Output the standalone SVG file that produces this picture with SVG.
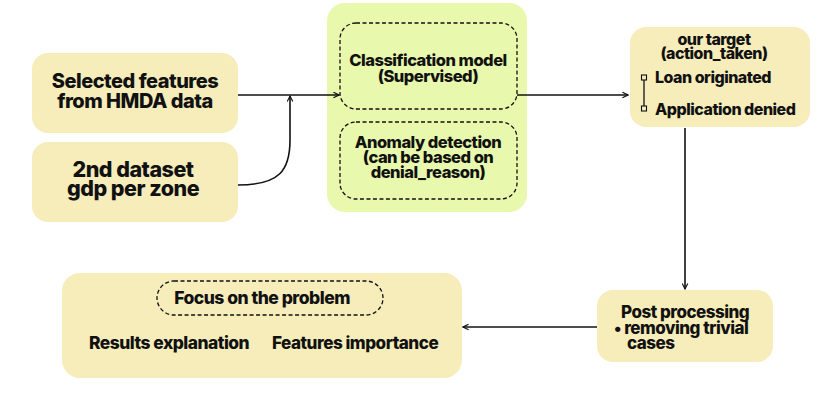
<svg xmlns="http://www.w3.org/2000/svg" width="824" height="405" viewBox="0 0 824 405">
<style>
.box{fill:#f6edbb;}
.grn{fill:#e8f8ac;}
.dash{fill:none;stroke:#111;stroke-width:1.3;stroke-dasharray:4 2.5;}
.t{font-family:Inter,"Liberation Sans",sans-serif;font-weight:800;fill:#111;letter-spacing:-0.5px;}
.c{text-anchor:middle;}
.con{fill:none;stroke:#111;stroke-width:1.6;}
</style>
<defs>
<marker id="ah" viewBox="0 0 10 10" refX="9" refY="5" markerWidth="7" markerHeight="7" orient="auto-start-reverse" markerUnits="userSpaceOnUse">
<path d="M1,1 L9,5 L1,9" fill="none" stroke="#111" stroke-width="1.6"/>
</marker>
</defs>
<rect width="824" height="405" fill="#ffffff"/>
<g id="hmda">
<rect class="box" x="32" y="53" width="206" height="80" rx="16"/>
<text class="t c" font-size="20" letter-spacing="-1"><tspan x="135" y="88">Selected features</tspan><tspan x="135" y="108">from HMDA data</tspan></text>
</g>
<g id="gdp">
<rect class="box" x="32" y="142" width="206" height="80" rx="16"/>
<text class="t c" font-size="21.5" letter-spacing="-0.8"><tspan x="133" y="177">2nd dataset</tspan><tspan x="133" y="196">gdp per zone</tspan></text>
</g>
<g id="models">
<rect class="grn" x="327" y="3" width="200" height="209" rx="18"/>
<g id="classification">
<rect class="dash" x="340" y="23" width="177" height="86" rx="16"/>
<text class="t c" font-size="16.5"><tspan x="428" y="66">Classification model</tspan><tspan x="428" y="82">(Supervised)</tspan></text>
</g>
<g id="anomaly">
<rect class="dash" x="340" y="122" width="177" height="77" rx="16"/>
<text class="t c" font-size="16.5"><tspan x="428" y="148">Anomaly detection</tspan><tspan x="428" y="163">(can be based on</tspan><tspan x="428" y="178">denial_reason)</tspan></text>
</g>
</g>
<g id="target">
<rect class="box" x="630" y="27" width="180" height="100" rx="16"/>
<text class="t c" font-size="16"><tspan x="714" y="45">our target</tspan><tspan x="714" y="59">(action_taken)</tspan></text>
<line x1="644" y1="79" x2="644" y2="108" stroke="#111" stroke-width="1.3"/>
<rect x="641.5" y="75" width="5" height="5" fill="#f6edbb" stroke="#111" stroke-width="1.1"/>
<rect x="641.5" y="106" width="5" height="5" fill="#f6edbb" stroke="#111" stroke-width="1.1"/>
<text class="t" font-size="16"><tspan x="655" y="83">Loan originated</tspan><tspan x="655" y="115">Application denied</tspan></text>
</g>
<g id="post">
<rect class="box" x="597" y="290" width="176" height="72" rx="16"/>
<text class="t" font-size="17"><tspan x="621" y="318">Post processing</tspan><tspan x="614" y="334">• removing trivial</tspan><tspan x="627" y="349">cases</tspan></text>
</g>
<g id="results">
<rect class="box" x="62" y="273" width="400" height="105" rx="18"/>
<rect class="dash" x="157" y="281" width="226" height="34" rx="17"/>
<text class="t c" x="262" y="304" font-size="17.5">Focus on the problem</text>
<text class="t" x="89" y="349" font-size="17.4">Results explanation</text>
<text class="t" x="272" y="349" font-size="17.1">Features importance</text>
</g>
<g id="connectors">
<path class="con" d="M238,95 L339,95" marker-end="url(#ah)"/>
<path class="con" d="M238,185 C280,185 290,170 290,140 L290,96" marker-end="url(#ah)"/>
<path class="con" d="M517,95 L628,95" marker-end="url(#ah)"/>
<path class="con" d="M685,128 L685,289" marker-end="url(#ah)"/>
<path class="con" d="M597,327 L463,327" marker-end="url(#ah)"/>
</g>
</svg>
